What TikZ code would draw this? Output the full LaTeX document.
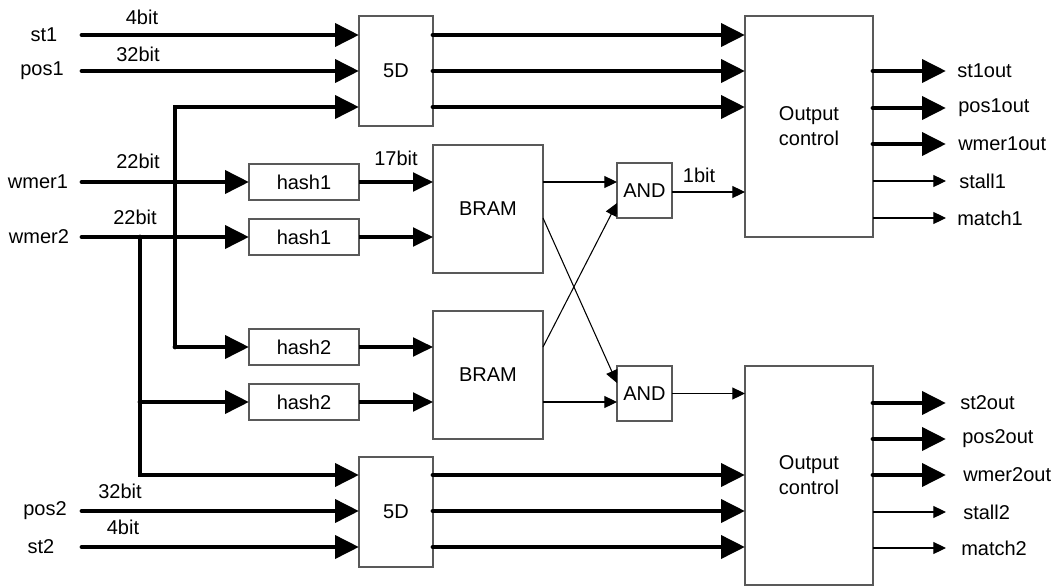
\documentclass[tikz,border=0pt]{standalone}
\usepackage{fontspec}
\setmainfont{Liberation Sans}
\usetikzlibrary{arrows.meta,calc}

\tikzset{
  txt/.style={font=\fontsize{15pt}{18.75pt}\selectfont, inner sep=0pt, align=center},
  blk/.style={draw=black!65, line width=0.8pt, inner sep=0pt, outer sep=0pt,
              font=\fontsize{15pt}{18.75pt}\selectfont, align=center},
  bus/.style={line width=3.6pt, line cap=round,
              -{Triangle[length=18pt,width=17pt]}},
  midbus/.style={line width=2.4pt,
              -{Triangle[length=15pt,width=14pt]}},
  wire/.style={line width=0.8pt,
              -{Triangle[length=9.5pt,width=9pt]}},
}

\begin{document}
\begin{tikzpicture}[x=0.75pt,y=-0.75pt]
\useasboundingbox (0,0) rectangle (1058,586);

% ---------- blocks ----------
\node[blk, minimum width=55.5pt, minimum height=82.5pt] (d1) at (396,71) {5D};
\node[blk, minimum width=55.5pt, minimum height=82.5pt] (d2) at (396,512) {5D};

\node[blk, minimum width=82.5pt, minimum height=27pt] (h1a) at (304,182) {hash1};
\node[blk, minimum width=82.5pt, minimum height=27pt] (h1b) at (304,237) {hash1};
\node[blk, minimum width=82.5pt, minimum height=27pt] (h2a) at (304,347) {hash2};
\node[blk, minimum width=82.5pt, minimum height=27pt] (h2b) at (304,402) {hash2};

\node[blk, minimum width=82.5pt, minimum height=96pt] (b1) at (488,209) {BRAM};
\node[blk, minimum width=82.5pt, minimum height=96pt] (b2) at (488,375) {BRAM};

\node[blk, minimum width=41.25pt, minimum height=41.25pt] (a1) at (644.5,190.5) {AND};
\node[blk, minimum width=41.25pt, minimum height=41.25pt] (a2) at (644.5,393.5) {AND};

\node[blk, minimum width=96pt, minimum height=165.75pt] (oc1) at (809,126.5) {Output\\control};
\node[blk, minimum width=96pt, minimum height=164.25pt] (oc2) at (809,475.5) {Output\\control};

% ---------- input labels ----------
\node[txt] (st1l)   at (44,35)  {st1};
\node[txt] (pos1l)  at (42,71)  {pos1};
\node[txt] (wm1l)   at (38,182) {wmer1};
\node[txt] (wm2l)   at (39,237) {wmer2};
\node[txt] (pos2l)  at (45,511) {pos2};
\node[txt] (st2l)   at (41,547) {st2};

% ---------- width labels ----------
\node[txt] (w4a)  at (142,17)  {4bit};
\node[txt] (w32a) at (138,54)  {32bit};
\node[txt] (w22a) at (138,161) {22bit};
\node[txt] (w22b) at (135,217) {22bit};
\node[txt] (w32b) at (120,491) {32bit};
\node[txt] (w4b)  at (123,527) {4bit};
\node[txt] (w17)  at (396,158) {17bit};
\node[txt] (w1)   at (699,175) {1bit};

% ---------- pin coordinates ----------
\coordinate (st1)  at (82,35);
\coordinate (pos1) at (82,71);
\coordinate (wm1)  at (82,182);
\coordinate (wm2)  at (82,237);
\coordinate (pos2) at (82,511);
\coordinate (st2)  at (82,547);
\coordinate (busA) at (175,347);
\coordinate (busB) at (140,237);
\coordinate (busBtap) at (140,402);
\coordinate (d1i3) at (359,107);
\coordinate (d2i1) at (359,475);
\coordinate (a1o)  at (672,192);
\coordinate (a1up) at (617,203);
\coordinate (a2dn) at (617,383);
\coordinate (b1x)  at (543,218);

% ---------- first 5D inputs ----------
\draw[bus] (st1) -- (st1 -| d1.west);
\draw[bus] (pos1) -- (pos1 -| d1.west);
\draw[bus] (busA) |- (d1i3);
\draw[bus] (busA) -- (h2a.west);

% ---------- hash inputs ----------
\draw[bus] (wm1) -- (h1a.west);
\draw[bus] (wm2) -- (h1b.west);
\draw[bus] (busB) |- (d2i1);
\draw[bus] (busBtap) -- (h2b.west);

% ---------- second 5D inputs ----------
\draw[bus] (pos2) -- (pos2 -| d2.west);
\draw[bus] (st2) -- (st2 -| d2.west);

% ---------- hash to BRAM ----------
\draw[midbus] (h1a.east) -- (h1a.east -| b1.west);
\draw[midbus] (h1b.east) -- (h1b.east -| b1.west);
\draw[midbus] (h2a.east) -- (h2a.east -| b2.west);
\draw[midbus] (h2b.east) -- (h2b.east -| b2.west);

% ---------- BRAM to AND ----------
\draw[wire] (b1.east |- h1a) -- (a1.west |- h1a);
\draw[wire] (b2.east |- h2b) -- (a2.west |- h2b);
\draw[wire] (b2.east |- h2a) -- (a1up);
\draw[wire] (b1x) -- (a2dn);

% ---------- AND to output control ----------
\draw[wire] (a1o) -- (a1o -| oc1.west);
\draw[wire] (a2.east) -- (a2.east -| oc2.west);

% ---------- 5D to output control ----------
\draw[bus] (d1.east |- st1) -- (oc1.west |- st1);
\draw[bus] (d1.east |- pos1) -- (oc1.west |- pos1);
\draw[bus] (d1.east |- d1i3) -- (oc1.west |- d1i3);
\draw[bus] (d2.east |- d2i1) -- (oc2.west |- d2i1);
\draw[bus] (d2.east |- pos2) -- (oc2.west |- pos2);
\draw[bus] (d2.east |- st2) -- (oc2.west |- st2);

% ---------- outputs, upper ----------
\coordinate (o1a) at (946,71);
\coordinate (o1b) at (946,108);
\coordinate (o1c) at (946,144);
\coordinate (o1d) at (946,181);
\coordinate (o1e) at (946,218);
\draw[bus]  (oc1.east |- o1a) -- (o1a);
\draw[bus]  (oc1.east |- o1b) -- (o1b);
\draw[bus]  (oc1.east |- o1c) -- (o1c);
\draw[wire] (oc1.east |- o1d) -- (o1d);
\draw[wire] (oc1.east |- o1e) -- (o1e);
\node[txt, anchor=west] (st1o)  at (957,71)  {st1out};
\node[txt, anchor=west] (pos1o) at (958,108) {pos1out};
\node[txt, anchor=west] (wm1o)  at (958,144) {wmer1out};
\node[txt, anchor=west] (stl1)  at (959,181) {stall1};
\node[txt, anchor=west] (mt1)   at (957,218) {match1};

% ---------- outputs, lower ----------
\coordinate (o2a) at (946,403);
\coordinate (o2b) at (946,439);
\coordinate (o2c) at (946,475);
\coordinate (o2d) at (946,512);
\coordinate (o2e) at (946,548);
\draw[bus]  (oc2.east |- o2a) -- (o2a);
\draw[bus]  (oc2.east |- o2b) -- (o2b);
\draw[bus]  (oc2.east |- o2c) -- (o2c);
\draw[wire] (oc2.east |- o2d) -- (o2d);
\draw[wire] (oc2.east |- o2e) -- (o2e);
\node[txt, anchor=west] (st2o)  at (960,403) {st2out};
\node[txt, anchor=west] (pos2o) at (962,439) {pos2out};
\node[txt, anchor=west] (wm2o)  at (963,475) {wmer2out};
\node[txt, anchor=west] (stl2)  at (963,512) {stall2};
\node[txt, anchor=west] (mt2)   at (961,548) {match2};
\end{tikzpicture}
\end{document}
